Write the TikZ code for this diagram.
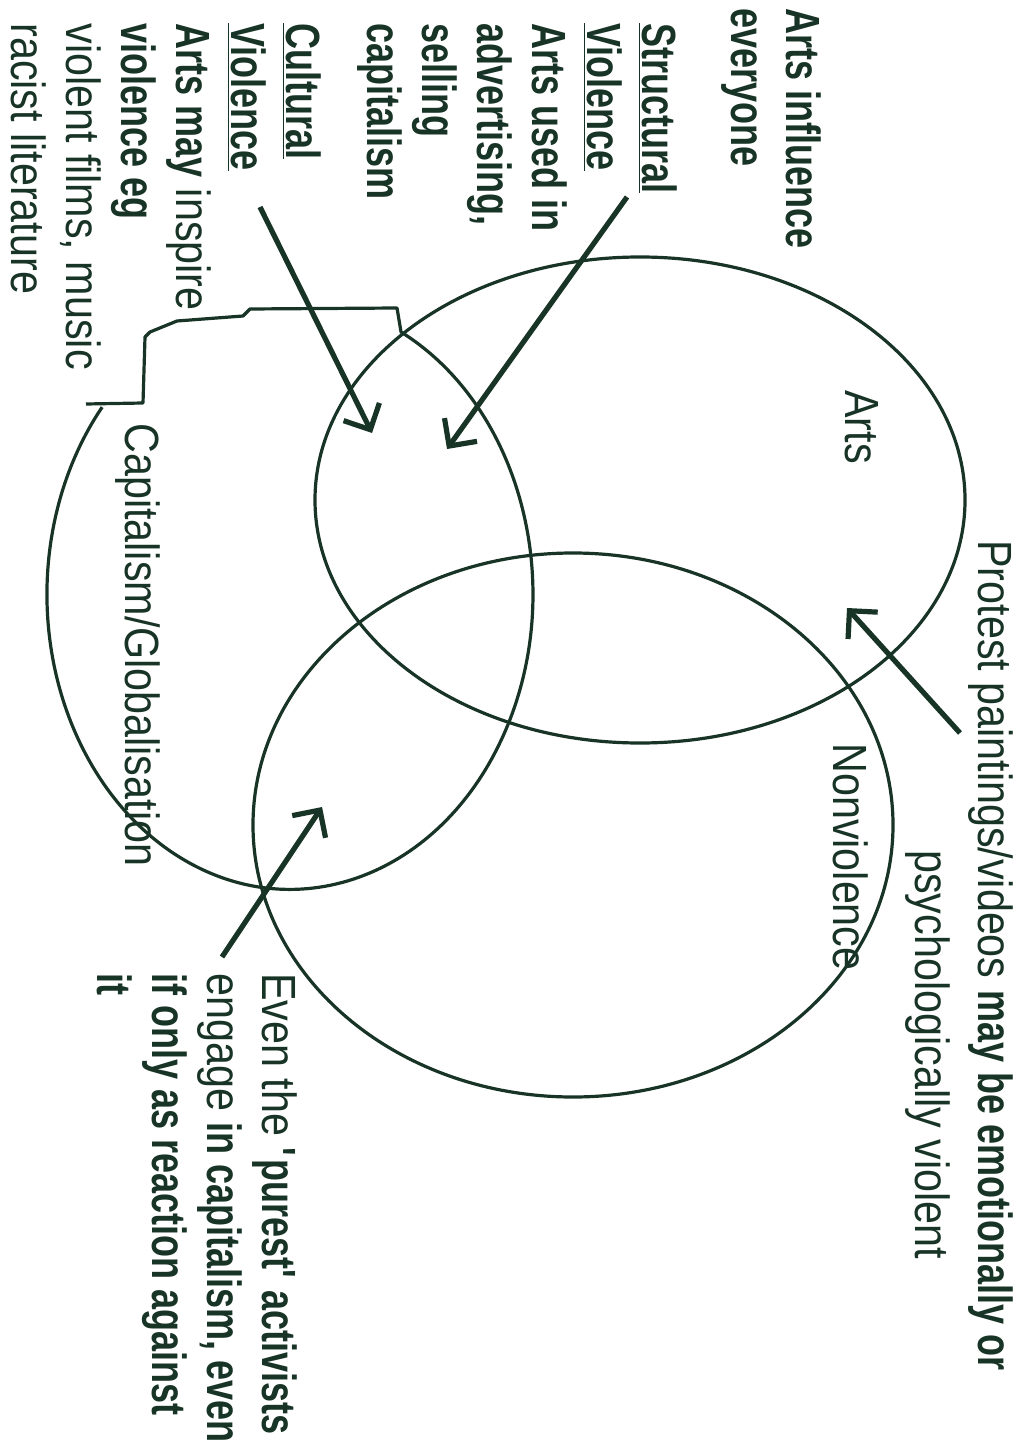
\documentclass[tikz,border=0pt]{standalone}
\usepackage{fontspec}
\setmainfont{Liberation Sans}[FakeStretch=0.86,BoldFeatures={FakeStretch=0.75}]
\usetikzlibrary{arrows.meta,shapes.geometric}
\definecolor{ink}{RGB}{24,52,38}
\begin{document}
\begin{tikzpicture}[x=0.5pt,y=-0.5pt,
  ring/.style={draw=ink,line width=1.6pt},
  oval/.style={ring,ellipse,inner sep=0pt,outer sep=0pt},
  pointer/.style={draw=ink,line width=2.6pt,-{Straight Barb[length=10pt,width=20pt]}},
  lbl/.style={rotate=-90,inner sep=0pt,text=ink,font=\fontsize{24}{27.5}\selectfont},
  blk/.style={lbl,align=left,anchor=north west},
  blkb/.style={blk,font=\fontsize{24}{27.5}\selectfont\bfseries},
  one/.style={lbl,anchor=base west}]
\useasboundingbox[fill=white] (0,0) rectangle (1022,1454);

% circles
\node[oval,minimum width=325pt,minimum height=243pt] (arts) at (640,500) {};
\node[oval,minimum width=320pt,minimum height=272pt] (nonviol) at (573,825) {};
% capitalism circle with its jagged top
\draw[ring,line join=round] (86,404) -- (143,403) -- (145,337) -- (150,332) -- (177,321)
  -- (243,316) -- (250,309) -- (397,308) -- (401,332)
  arc[start angle=-62.8,end angle=219.4,x radius=243,y radius=295];

% labels in the circles
\node[one] (artslbl) at (845,390) {Arts};
\node[one] (caplbl) at (125,423) {Capitalism/Globalisation};
\node[one] (nvlbl) at (833,743) {Nonviolence};

% text blocks
\node[blkb] (influence) at (822,8) {Arts influence\\everyone};
\node[blkb] (structural) at (678,23) {\underline{Structural}\\\underline{Violence}\\Arts used in\\advertising,\\selling\\capitalism};
\node[blk] (cultural) at (322,23) {\textbf{\underline{Cultural}}\\\textbf{\underline{Violence}}\\\textbf{Arts may} inspire\\\textbf{violence eg}\\violent films, music\\racist literature};
\node[one] (protest1) at (978,540) {Protest paintings/videos \textbf{may be emotionally or}};
\node[one] (protest2) at (915,850) {psychologically violent};
\node[blk] (purest) at (298,973) {Even the \textbf{\textquotesingle purest\textquotesingle{} activists}\\engage \textbf{in capitalism, even}\\\textbf{if only as reaction against}\\\textbf{it}};

% arrows
\coordinate (sT) at (627,197); \coordinate (sH) at (447,449);
\coordinate (cT) at (260,207); \coordinate (cH) at (372,433);
\coordinate (pT) at (960,733); \coordinate (pH) at (847,608);
\coordinate (eT) at (222,957); \coordinate (eH) at (322,807);
\draw[pointer] (sT) -- (sH);
\draw[pointer] (cT) -- (cH);
\draw[pointer] (pT) -- (pH);
\draw[pointer] (eT) -- (eH);
\end{tikzpicture}
\end{document}
